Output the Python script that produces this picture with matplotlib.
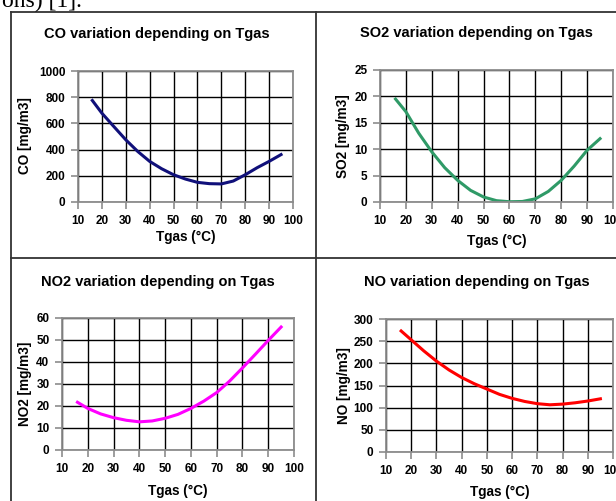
import matplotlib.pyplot as plt
from matplotlib.lines import Line2D

# data (gas temperature in degC)
tgas = [16, 20, 25, 30, 35, 40, 45, 50, 55, 60, 65, 70, 75, 80, 85, 90, 95]
co = [775, 678, 576, 475, 386, 310, 254, 208, 175, 150, 140, 138, 160, 208, 262, 310, 362]
so2 = [19.5, 17.1, 13.0, 9.5, 6.5, 4.1, 2.2, 0.95, 0.25, 0.05, 0.1, 0.6, 2.0, 4.1, 6.8, 9.8, 12.0]
no2 = [21.7, 18.9, 16.4, 14.7, 13.5, 12.8, 13.2, 14.4, 16.2, 18.9, 22.2, 26.1, 31.3, 37.3, 43.5, 49.8, 55.9]
no = [273, 253, 228, 205, 185, 168, 154, 142, 130, 121, 114, 109, 106.5, 108, 111, 115, 120]

W, H = 616, 501
fig = plt.figure(figsize=(W / 100, H / 100), dpi=100)
plt.rcParams['font.family'] = 'Liberation Sans'


def px_axes(l, r, t, b):
    return fig.add_axes([l / W, 1 - b / H, (r - l) / W, (b - t) / H])


def fx(x):
    return x / W


def fy(y):
    return 1 - y / H


def panel(box, y, color, ymax, ystep, title, ylab, tpos, ylpos, xlpos):
    ax = px_axes(*box)
    ax.plot(tgas, y, color=color, lw=2.2, solid_joinstyle='round')
    ax.set_xlim(10, 100)
    ax.set_ylim(0, ymax)
    ax.set_xticks(range(10, 101, 10))
    ax.set_yticks([ystep * i for i in range(int(round(ymax / ystep)) + 1)])
    ax.grid(True, color='black', lw=1.0)
    ax.set_axisbelow(True)
    for s in ax.spines.values():
        s.set_color('#8c8c8c')
        s.set_linewidth(1.3)
    ax.tick_params(colors='#8c8c8c', labelcolor='black', length=5, width=1.2,
                   labelsize=8.5, pad=4)
    for lab in ax.get_xticklabels() + ax.get_yticklabels():
        lab.set_fontweight('bold')
    fig.text(fx(tpos[0]), fy(tpos[1]), title, ha='center', va='center',
             fontsize=10.5, fontweight='bold')
    fig.text(fx(ylpos[0]), fy(ylpos[1]), ylab, ha='center', va='center',
             rotation=90, fontsize=9.8, fontweight='bold')
    fig.text(fx(xlpos[0]), fy(xlpos[1]), 'Tgas (°C)', ha='center', va='center',
             fontsize=9.8, fontweight='bold')
    return ax


panel((78, 293, 71, 202), co, '#10107a', 1000, 200,
      'CO variation depending on Tgas', 'CO [mg/m3]',
      (157, 34), (25, 136), (186, 237))
panel((380, 613, 70, 202), so2, '#2f9a67', 25, 5,
      'SO2 variation depending on Tgas', 'SO2 [mg/m3]',
      (476, 33), (343, 136), (497, 241))
panel((62, 294, 318, 450), no2, '#ff00ff', 60, 10,
      'NO2 variation depending on Tgas', 'NO2 [mg/m3]',
      (158, 282), (25, 384), (178, 491))
panel((386, 613, 319, 452), no, '#ff0000', 300, 50,
      'NO variation depending on Tgas', 'NO [mg/m3]',
      (477, 282), (344, 386), (500, 492))

# table borders of the document
border = dict(color='#333333', lw=1.3, transform=fig.transFigure)
fig.add_artist(Line2D([fx(11), fx(11)], [fy(12), 0], **border))
fig.add_artist(Line2D([fx(11), 1], [fy(12), fy(12)], **border))
fig.add_artist(Line2D([fx(316), fx(316)], [fy(12), 0], **border))
fig.add_artist(Line2D([fx(11), 1], [fy(258), fy(258)], **border))

# clipped body text above the table
fig.text(fx(2), fy(7), 'ons) [1].', ha='left', va='baseline',
         fontsize=17, family='Liberation Serif')

fig.savefig('out.png', dpi=100)
